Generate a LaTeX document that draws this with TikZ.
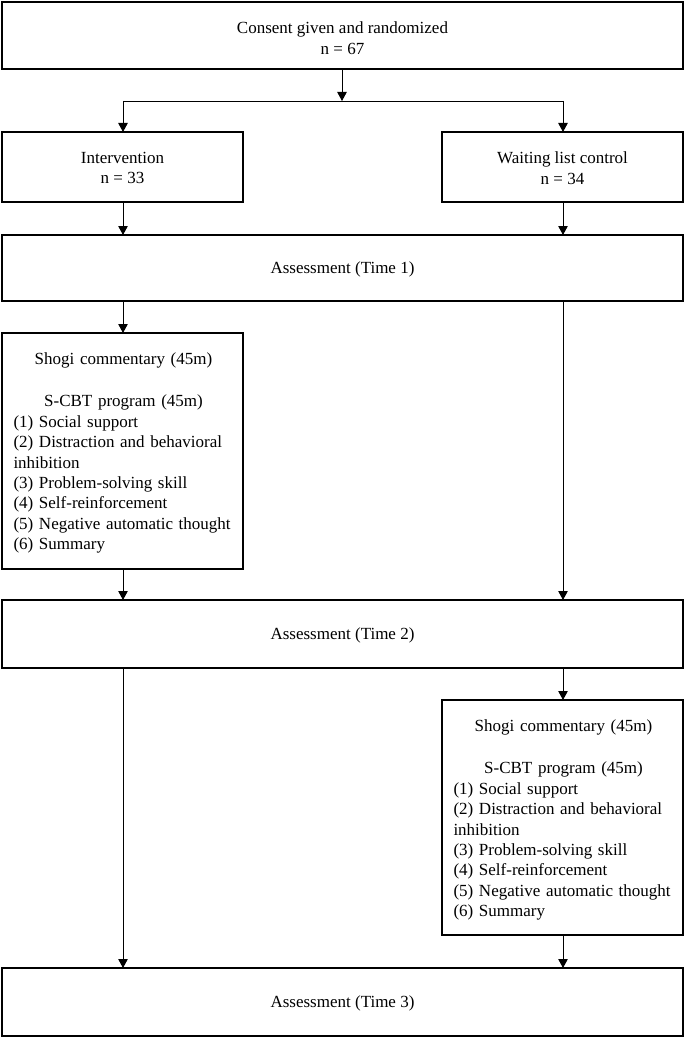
\documentclass[tikz,border=0pt]{standalone}
\usepackage{fontspec}
\setmainfont{Liberation Serif}
\usetikzlibrary{arrows.meta}
\begin{document}
\begin{tikzpicture}[x=1pt,y=-1pt,
  box/.style={draw, line width=1.8pt, fill=white},
  conn/.style={line width=0.9pt},
  arr/.style={conn, -{Triangle[length=9pt,width=9.5pt]}},
  txt/.style={font=\fontsize{17}{20.8}\selectfont, align=center, inner sep=0pt},
  list/.style={font=\fontsize{17}{20.4}\selectfont, inner sep=0pt, text width=220pt}
]
\useasboundingbox (0,0) rectangle (685,1038);
\fill[white] (0,0) rectangle (685,1038);
% boxes
\draw[box] (2,2) rectangle (683,69);
\node[txt] (top) at (342.5,38) {Consent given and randomized\\n = 67};
\coordinate (topb) at (342,69);
\coordinate (split) at (342,101);
\coordinate (splitL) at (123,101);
\coordinate (splitR) at (563,101);

\draw[box] (2,132) rectangle (243,202);
\node[txt] (int) at (122.5,168) {Intervention\\n = 33};
\coordinate (intT) at (123,132);
\coordinate (intB) at (123,202);

\draw[box] (442,132) rectangle (683,202);
\node[txt] (wait) at (562.5,168) {Waiting list control\\n = 34};
\coordinate (waitT) at (563,132);
\coordinate (waitB) at (563,202);

\draw[box] (2,235) rectangle (683,301);
\node[txt] (a1) at (342.5,269) {Assessment (Time 1)};
\coordinate (a1T1) at (123,235);
\coordinate (a1T2) at (563,235);
\coordinate (a1B1) at (123,301);
\coordinate (a1B2) at (563,301);

\draw[box] (2,333) rectangle (243,569);
\node[list] (s1) at (123.5,453) {{\centering Shogi commentary (45m)\\[22pt] S-CBT program (45m)\par}\raggedright
(1) Social support\\
(2) Distraction and behavioral\\
inhibition\\
(3) Problem-solving skill\\
(4) Self-reinforcement\\
(5) Negative automatic thought\\
(6) Summary\par};
\coordinate (s1T) at (123,333);
\coordinate (s1B) at (123,569);

\draw[box] (2,600) rectangle (683,668);
\node[txt] (a2) at (342.5,635) {Assessment (Time 2)};
\coordinate (a2T1) at (123,600);
\coordinate (a2T2) at (563,600);
\coordinate (a2B1) at (123,668);
\coordinate (a2B2) at (563,668);

\draw[box] (442,700) rectangle (683,935);
\node[list] (s2) at (563.5,820) {{\centering Shogi commentary (45m)\\[22pt] S-CBT program (45m)\par}\raggedright
(1) Social support\\
(2) Distraction and behavioral\\
inhibition\\
(3) Problem-solving skill\\
(4) Self-reinforcement\\
(5) Negative automatic thought\\
(6) Summary\par};
\coordinate (s2T) at (563,700);
\coordinate (s2B) at (563,935);

\draw[box] (2,968) rectangle (683,1036);
\node[txt] (a3) at (342.5,1003) {Assessment (Time 3)};
\coordinate (a3T1) at (123,968);
\coordinate (a3T2) at (563,968);

% connectors
\draw[arr] (topb) -- (split);
\draw[conn] (splitL) -- (splitR);
\draw[arr] (splitL) -- (intT);
\draw[arr] (splitR) -- (waitT);
\draw[arr] (intB) -- (a1T1);
\draw[arr] (waitB) -- (a1T2);
\draw[arr] (a1B1) -- (s1T);
\draw[arr] (a1B2) -- (a2T2);
\draw[arr] (s1B) -- (a2T1);
\draw[arr] (a2B1) -- (a3T1);
\draw[arr] (a2B2) -- (s2T);
\draw[arr] (s2B) -- (a3T2);
\end{tikzpicture}
\end{document}
